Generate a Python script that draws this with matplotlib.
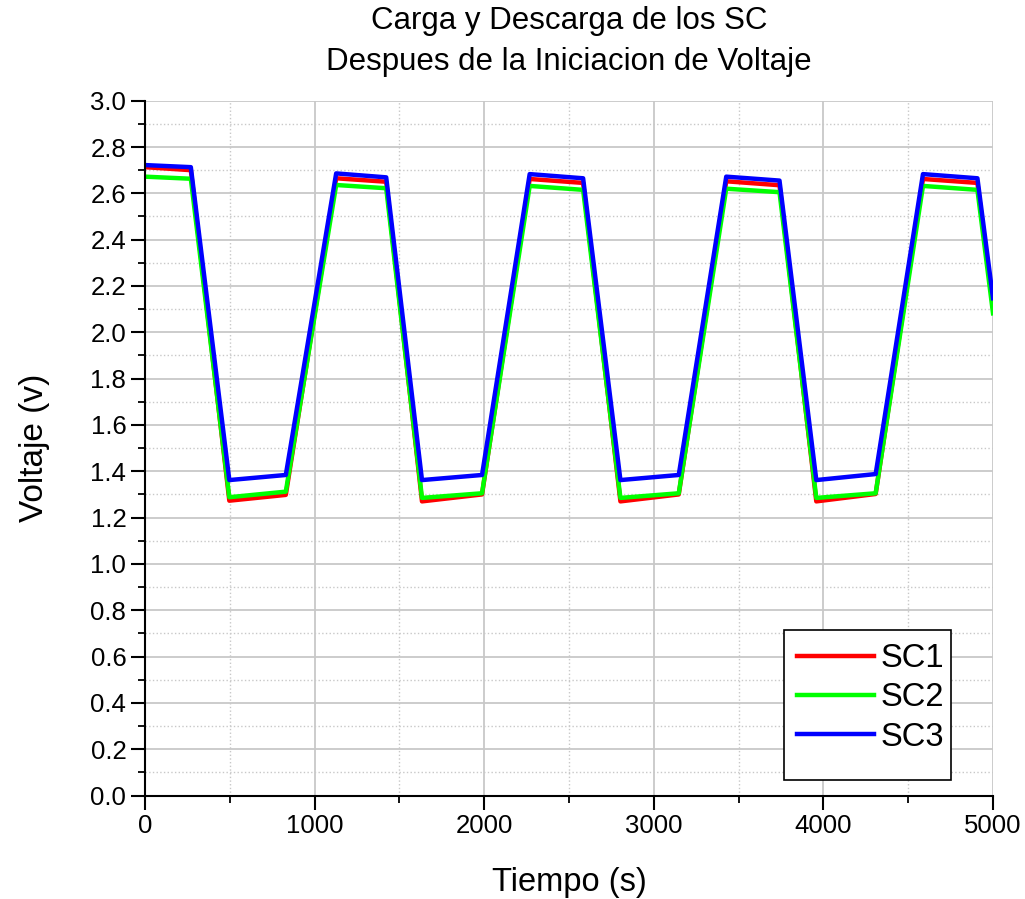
import matplotlib
matplotlib.use("Agg")
import matplotlib.pyplot as plt
from matplotlib.patches import Rectangle
from matplotlib.ticker import MultipleLocator, FormatStrFormatter

# corner points (time in s, voltage in V)
tiempo = [0, 270, 497, 830, 1127, 1422, 1633, 1987, 2268, 2583,
          2803, 3147, 3427, 3741, 3958, 4308, 4587, 4908, 5000]
sc1 = [2.713, 2.700, 1.273, 1.298, 2.665, 2.650, 1.270, 1.300, 2.662, 2.645,
       1.270, 1.300, 2.652, 2.635, 1.270, 1.302, 2.662, 2.645, 2.110]
sc2 = [2.672, 2.663, 1.288, 1.312, 2.636, 2.622, 1.285, 1.305, 2.632, 2.615,
       1.285, 1.305, 2.620, 2.605, 1.285, 1.305, 2.632, 2.615, 2.082]
sc3 = [2.722, 2.713, 1.362, 1.384, 2.686, 2.669, 1.362, 1.384, 2.683, 2.665,
       1.362, 1.384, 2.672, 2.655, 1.362, 1.388, 2.683, 2.665, 2.147]

series = [("SC1", sc1, "#ff0000"), ("SC2", sc2, "#00ff00"), ("SC3", sc3, "#0000ff")]

plt.rcParams["font.family"] = ["Liberation Sans", "DejaVu Sans"]

fig = plt.figure(figsize=(10.25, 8.99), dpi=100)
ax = fig.add_axes([0.1415, 0.1151, 0.8273, 0.7729])

for name, vals, color in series:
    ax.plot(tiempo, vals, color=color, lw=3.2, label=name, solid_joinstyle="round")

ax.set_xlim(0, 5000)
ax.set_ylim(0, 3.0)
ax.xaxis.set_major_locator(MultipleLocator(1000))
ax.xaxis.set_minor_locator(MultipleLocator(500))
ax.yaxis.set_major_locator(MultipleLocator(0.2))
ax.yaxis.set_minor_locator(MultipleLocator(0.1))
ax.yaxis.set_major_formatter(FormatStrFormatter("%.1f"))

ax.grid(which="major", color="#c8c8c8", lw=1.3, ls="-")
ax.grid(which="minor", color="#c8c8c8", lw=1.0, ls=":")
ax.set_axisbelow(True)

for side in ("top", "right"):
    ax.spines[side].set_visible(False)
for side in ("left", "bottom"):
    ax.spines[side].set_linewidth(1.5)
    ax.spines[side].set_color("black")

ax.tick_params(which="major", direction="out", length=10, width=1.5, labelsize=18.5)
ax.tick_params(which="minor", direction="out", length=5, width=1.3)

ax.set_xlabel("Tiempo (s)", fontsize=23.5, labelpad=21)
ax.set_ylabel("Voltaje (v)", fontsize=24, labelpad=29)
ax.set_title("Carga y Descarga de los SC\nDespues de la Iniciacion de Voltaje",
             fontsize=22.5, pad=22, linespacing=1.48)

# legend box: taller at the bottom than the entries need, as in the original
box = Rectangle((0.754, 0.0223), 0.197, 0.2157, transform=ax.transAxes,
                facecolor="white", edgecolor="black", lw=1.2, zorder=4)
ax.add_patch(box)
leg = ax.legend(loc="upper left", bbox_to_anchor=(0.754, 0.2380),
                borderaxespad=0, fontsize=23.5, frameon=False,
                handlelength=2.35, handletextpad=0.2, labelspacing=0.25,
                borderpad=0.4)
leg.set_zorder(5)

fig.savefig("out.png", dpi=100)
